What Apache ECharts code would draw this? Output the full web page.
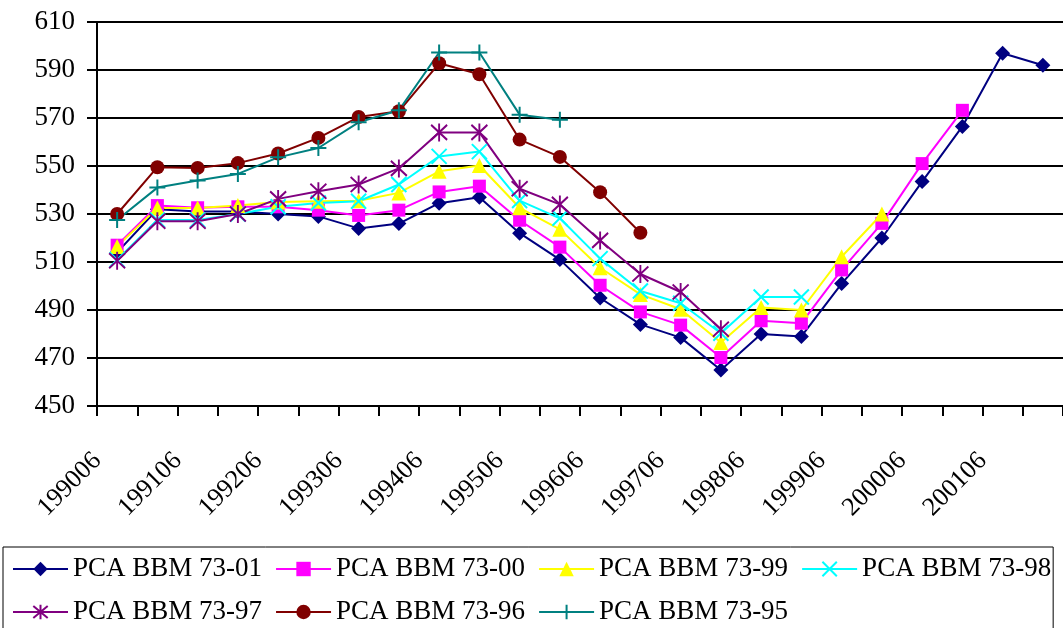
<!DOCTYPE html>
<html>
<head>
<meta charset="utf-8">
<script src="https://cdn.jsdelivr.net/npm/echarts@6/dist/echarts.min.js"></script>
<style>
html,body{margin:0;padding:0;background:#fff;}
#c{width:1063px;height:628px;}
</style>
</head>
<body>
<div id="c"></div>
<script>
var categories = ["199006","199012","199106","199112","199206","199212","199306","199312","199406","199412","199506","199512","199606","199612","199706","199712","199806","199812","199906","199912","200006","200012","200106","200112"];
var yTicks = [450, 470, 490, 510, 530, 550, 570, 590, 610];

var s7301 = [514, 532, 531, 531, 530, 529, 524, 526, 534.5, 537, 522, 511, 495, 484, 478.5, 465, 480, 479, 501, 520, 543.5, 566.5, 597, 592];
var s7300 = [517, 533.5, 532.6, 533, 533, 531.6, 529.4, 531.6, 539.2, 541.6, 527.4, 516.2, 500.3, 489.2, 483.7, 470.2, 485.5, 484.5, 506.7, 526.1, 551, 573.2, null, null];
var s7399 = [516.5, 532.5, 532.5, 533.5, 535, 535.3, 535.5, 538.8, 547.8, 550.2, 532.6, 523.6, 507.6, 496.5, 490.3, 476.5, 491, 490, 512.2, 530, null, null, null, null];
var s7398 = [511, 527.5, 527.5, 530, 533, 534.6, 535.3, 542.3, 554, 556, 535.6, 528.2, 511.4, 497.9, 492.8, 480.3, 495.4, 495.4, null, null, null, null, null, null];
var s7397 = [510.5, 527, 527, 530, 536.3, 539.5, 542.3, 549, 564, 564, 540.5, 534, 519, 505, 497.5, 482, null, null, null, null, null, null, null, null];
var s7396 = [530, 549.5, 549.2, 551.2, 555.2, 561.7, 570.4, 572.8, 592.8, 588.2, 561, 553.8, 539.1, 522.2, null, null, null, null, null, null, null, null, null, null];
var s7395 = [527.5, 541, 544, 546.7, 553.6, 557.5, 568.2, 573.2, 597.3, 597.3, 571.4, 569.3, null, null, null, null, null, null, null, null, null, null, null, null];

var seriesNames = ["PCA BBM 73-01","PCA BBM 73-00","PCA BBM 73-99","PCA BBM 73-98","PCA BBM 73-97","PCA BBM 73-96","PCA BBM 73-95"];
var seriesData = [s7301, s7300, s7399, s7398, s7397, s7396, s7395];

var styles = [
  {color:"#000080", symbol:"diamond", size:15, stroke:false},
  {color:"#FF00FF", symbol:"rect", size:13, stroke:false},
  {color:"#FFFF00", symbol:"triangle", size:15, stroke:false},
  {color:"#00FFFF", symbol:"path://M0,0L10,10M10,0L0,10", size:15, stroke:true},
  {color:"#800080", symbol:"path://M0,1L10,11M10,1L0,11M5,0L5,12", size:[16,18], stroke:true},
  {color:"#800000", symbol:"circle", size:14, stroke:false},
  {color:"#008080", symbol:"path://M5,0L5,10M0,5L10,5", size:16, stroke:true}
];

var FONT = "Liberation Serif";
var series = seriesNames.map(function(n, i){
  var st = styles[i];
  return {
    name: n,
    type: "line",
    data: seriesData[i],
    symbol: st.symbol,
    symbolSize: st.size,
    showSymbol: true,
    showAllSymbol: true,
    connectNulls: false,
    lineStyle: {color: st.color, width: 2},
    itemStyle: st.stroke ? {color: st.color, borderColor: st.color, borderWidth: 2} : {color: st.color, borderWidth: 0},
    emphasis: {disabled: true}
  };
});

var chart = echarts.init(document.getElementById("c"), null, {renderer: "canvas"});
chart.setOption({
  animation: false,
  backgroundColor: "#fff",
  grid: {left: 97, right: 0, top: 22, bottom: 222, containLabel: false},
  legend: {
    data: seriesNames,
    left: 3,
    top: 547,
    width: 1058,
    orient: "horizontal",
    padding: [7, 2, 12, 9],
    itemWidth: 55,
    itemHeight: 18,
    itemGap: 13,
    borderColor: "#000",
    borderWidth: 1,
    textStyle: {fontFamily: FONT, fontSize: 27, color: "#000", lineHeight: 30}
  },
  xAxis: {
    type: "category",
    data: categories,
    boundaryGap: true,
    axisLine: {show: true, lineStyle: {color: "#000", width: 2}},
    axisTick: {show: true, interval: 0, length: 10, lineStyle: {color: "#000", width: 2}},
    axisLabel: {
      interval: 1,
      rotate: 45,
      margin: 31,
      padding: [0, 28, 0, 0],
      fontFamily: FONT,
      fontSize: 26,
      color: "#000"
    },
    splitLine: {show: false}
  },
  yAxis: {
    type: "value",
    min: yTicks[0],
    max: yTicks[yTicks.length - 1],
    interval: yTicks[1] - yTicks[0],
    axisLine: {show: true, lineStyle: {color: "#000", width: 2}},
    axisTick: {show: true, length: 10, lineStyle: {color: "#000", width: 2}},
    axisLabel: {margin: 22, fontFamily: FONT, fontSize: 27, color: "#000"},
    splitLine: {show: true, lineStyle: {color: "#000", width: 2}}
  },
  series: series
});
</script>
</body>
</html>
